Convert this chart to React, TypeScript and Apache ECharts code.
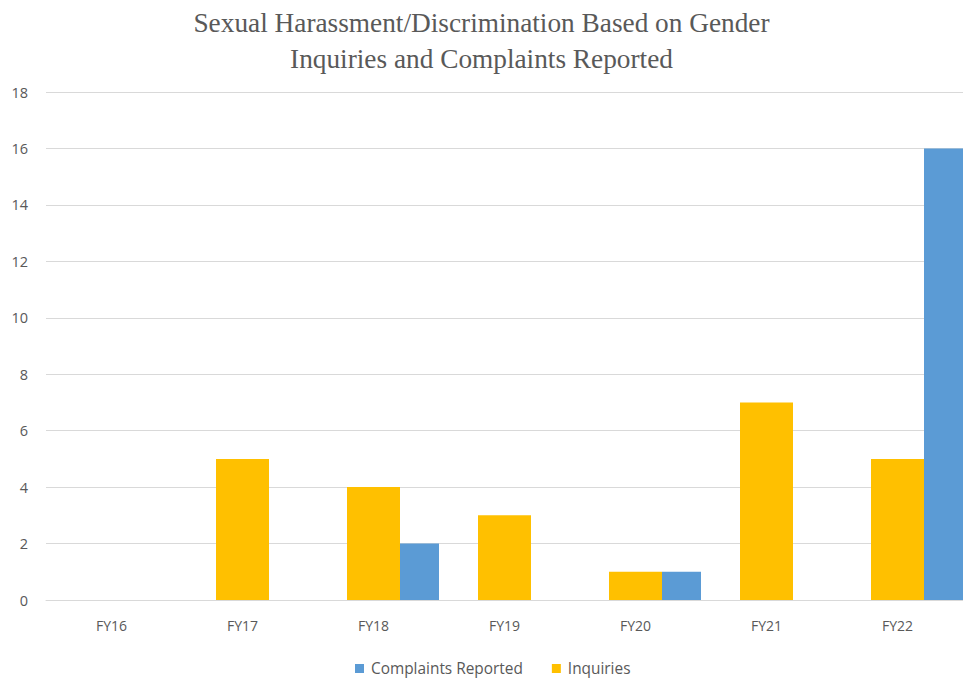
import React, { useEffect, useRef } from "react";
import * as echarts from "echarts";

const categories = ["FY16", "FY17", "FY18", "FY19", "FY20", "FY21", "FY22"];
const inquiries = [0, 5, 4, 3, 1, 7, 5];
const complaints = [0, 0, 2, 0, 1, 0, 16];
const titleLines = [
  "Sexual Harassment/Discrimination Based on Gender",
  "Inquiries and Complaints Reported",
];

export default function App() {
  const ref = useRef<HTMLDivElement>(null);
  useEffect(() => {
    const chart = echarts.init(ref.current!, null, { renderer: "svg" });
    const labelFont = "'Open Sans', 'Noto Sans', sans-serif";
    chart.setOption({
      animation: false,
      backgroundColor: "#ffffff",
      title: {
        text: titleLines.join("\n"),
        left: "center",
        top: 0,
        textStyle: {
          fontFamily: "'Liberation Serif', serif",
          fontWeight: "normal",
          fontSize: 27.3,
          lineHeight: 36,
          color: "#595959",
        },
      },
      legend: {
        data: ["Complaints Reported", "Inquiries"],
        bottom: 0,
        left: 350,
        icon: "rect",
        itemWidth: 9,
        itemHeight: 9,
        itemGap: 29,
        textStyle: { fontFamily: labelFont, fontSize: 15.4, color: "#595959", padding: [0, 0, 0, 2] },
      },
      grid: { left: 46, width: 921, top: 92, height: 508, containLabel: false },
      xAxis: {
        type: "category",
        data: categories,
        axisTick: { show: false },
        axisLine: { lineStyle: { color: "#d9d9d9", width: 1 } },
        axisLabel: { fontFamily: labelFont, fontSize: 14, color: "#595959", margin: 18 },
      },
      yAxis: {
        type: "value",
        min: 0,
        max: 18,
        interval: 2,
        axisLine: { show: false },
        axisTick: { show: false },
        splitLine: { lineStyle: { color: "#d9d9d9", width: 1 } },
        axisLabel: { fontFamily: labelFont, fontSize: 14.5, color: "#595959", margin: 18 },
      },
      series: [
        { name: "_spacer", type: "bar", barWidth: 39, barGap: 0, data: [], silent: true },
        {
          name: "Inquiries",
          type: "bar",
          barWidth: 53,
          barGap: 0,
          itemStyle: { color: "#FFC000" },
          data: inquiries,
        },
        {
          name: "Complaints Reported",
          type: "bar",
          barWidth: 39,
          barGap: 0,
          itemStyle: { color: "#5B9BD5" },
          data: complaints,
        },
      ],
    });
    return () => chart.dispose();
  }, []);
  return (
    <div
      ref={ref}
      style={{ position: "absolute", left: 0, top: 0, width: 963, height: 681 }}
    />
  );
}
